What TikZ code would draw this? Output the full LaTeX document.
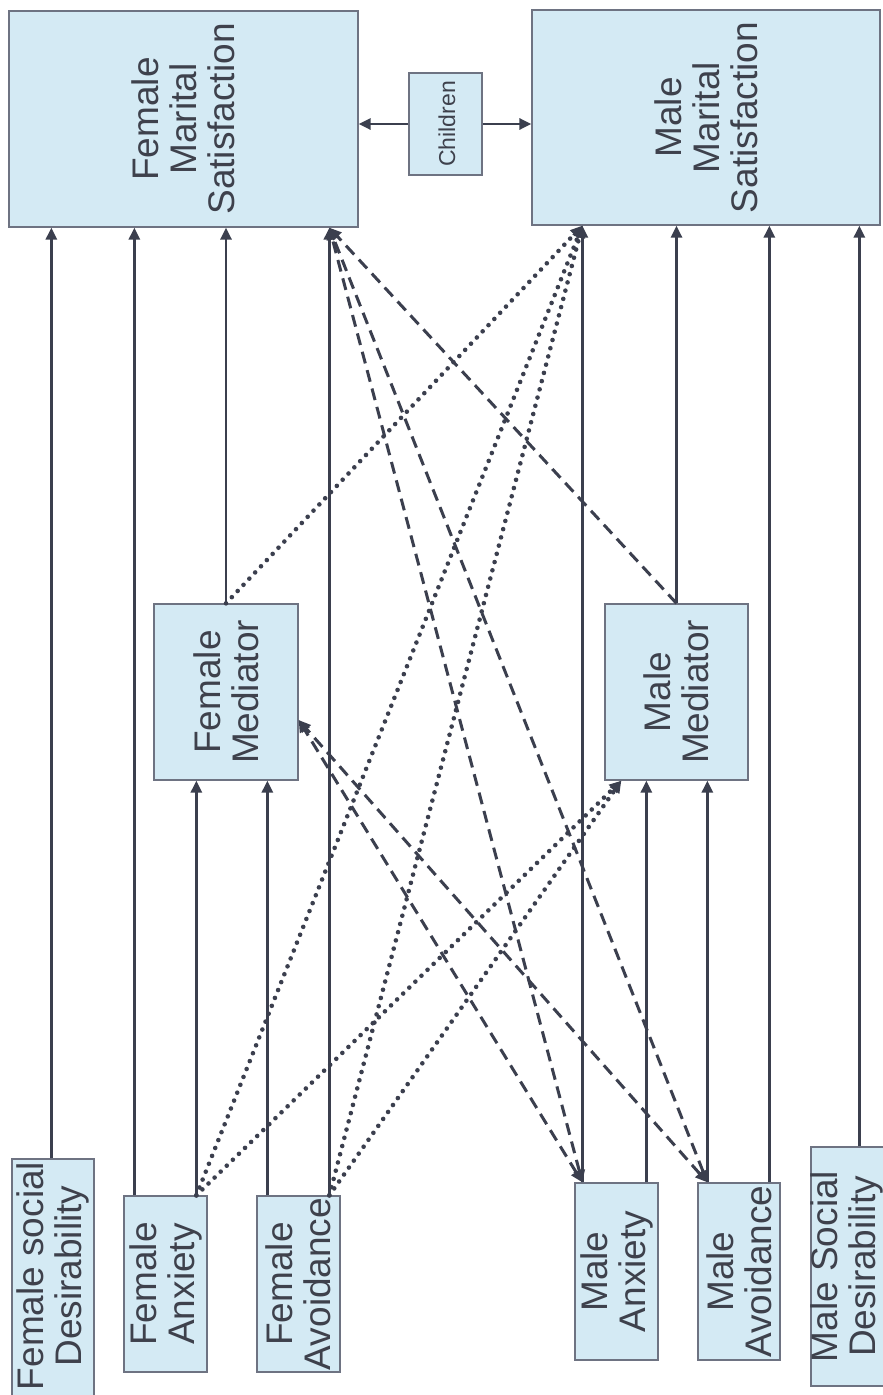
\documentclass[tikz,border=0pt]{standalone}
\usepackage{fontspec}
\setmainfont{Liberation Sans}
\usetikzlibrary{arrows.meta}
\definecolor{boxfill}{HTML}{D4EAF4}
\definecolor{boxline}{HTML}{6E7382}
\definecolor{ink}{HTML}{3B3F4E}
\definecolor{txt}{HTML}{3E414C}
\begin{document}
\begin{tikzpicture}[x=1pt,y=-1pt,
  box/.style={draw=boxline, line width=1.3pt, fill=boxfill, inner sep=0pt},
  lbl/.style={rotate=90, align=center, text=txt, font=\fontsize{37}{38}\selectfont, inner sep=0pt},
  smalllbl/.style={rotate=90, align=center, text=txt, font=\fontsize{23}{24}\selectfont, inner sep=0pt},
  solidc/.style={draw=ink, line width=2.9pt, -{Triangle[length=12pt,width=11pt]}},
  dotc/.style={draw=ink, line width=4.6pt, line cap=round, dash pattern=on 0pt off 8.5pt, -{Triangle[length=12pt,width=11pt]}},
  dashc/.style={draw=ink, line width=3pt, dash pattern=on 12pt off 7pt, -{Triangle[length=12pt,width=11pt]}},
  dashbi/.style={draw=ink, line width=3pt, dash pattern=on 12pt off 7pt, {Triangle[length=12pt,width=11pt]}-{Triangle[length=12pt,width=11pt]}}]
\useasboundingbox (0,0) rectangle (883,1395);
\fill[white] (0,0) rectangle (883,1395);
\clip (0,0) rectangle (883,1395);

% boxes
\node[box, minimum width=349pt, minimum height=216pt] (fms) at (183.5,119) {};
\node[lbl] (fmsT) at (fms) {Female\\Marital\\Satisfaction};
\node[box, minimum width=348pt, minimum height=215pt] (mms) at (706,117.5) {};
\node[lbl] (mmsT) at (mms) {Male\\Marital\\Satisfaction};
\node[box, minimum width=73pt, minimum height=102pt] (ch) at (445.5,124) {};
\node[smalllbl] (chT) at (447,124) {Children};

\node[box, minimum width=144pt, minimum height=176pt] (fmed) at (226,692) {};
\node[lbl] (fmedT) at (fmed) {Female\\Mediator};
\node[box, minimum width=143pt, minimum height=176pt] (mmed) at (676.5,692) {};
\node[lbl] (mmedT) at (mmed) {Male\\Mediator};

\node[box, minimum width=82pt, minimum height=241pt] (fsd) at (53,1279.5) {};
\node[lbl] (fsdT) at (53,1276) {Female social\\Desirability};
\node[box, minimum width=83pt, minimum height=176pt] (fan) at (165.5,1284) {};
\node[lbl] (fanT) at (fan) {Female\\Anxiety};
\node[box, minimum width=83pt, minimum height=176pt] (fav) at (298.5,1284) {};
\node[lbl] (favT) at (fav) {Female\\Avoidance};
\node[box, minimum width=83pt, minimum height=177pt] (man) at (616.5,1271.5) {};
\node[lbl] (manT) at (man) {Male\\Anxiety};
\node[box, minimum width=82pt, minimum height=177pt] (mav) at (739,1271.5) {};
\node[lbl] (mavT) at (mav) {Male\\Avoidance};
\node[box, minimum width=82pt, minimum height=239pt] (msd) at (852,1266.5) {};
\node[lbl] (msdT) at (847,1266.5) {Male Social\\Desirability};

% attachment points
\coordinate (fsdP) at ([xshift=40pt]fsd.north west);
\coordinate (fanL) at ([xshift=11pt]fan.north west);
\coordinate (fanR) at ([xshift=73pt]fan.north west);
\coordinate (favL) at ([xshift=11pt]fav.north west);
\coordinate (favR) at ([xshift=73pt]fav.north west);
\coordinate (manL) at ([xshift=8pt]man.north west);
\coordinate (manR) at ([xshift=72pt]man.north west);
\coordinate (mavL) at ([xshift=10pt]mav.north west);
\coordinate (mavR) at ([xshift=72pt]mav.north west);
\coordinate (msdP) at ([xshift=49pt]msd.north west);
\coordinate (fmsX) at ([xshift=321pt]fms.south west);
\coordinate (mmsX) at ([xshift=51pt]mms.south west);
\coordinate (mmedX) at ([xshift=17pt]mmed.south west);
\coordinate (fmedX) at ([yshift=-28pt]fmed.east);

% solid paths
\draw[solidc] (fsdP) -- (fsdP |- fms.south);
\draw[solidc] (fanL) -- (fanL |- fms.south);
\draw[solidc] (fanR) -- (fanR |- fmed.south);
\draw[solidc] (favL) -- (favL |- fmed.south);
\draw[solidc] (favR) -- (favR |- fms.south);
\draw[solidc] (fmed.north) -- (fmed.north |- fms.south);
\draw[solidc] (manL) -- (manL |- mms.south);
\draw[solidc] (manR) -- (manR |- mmed.south);
\draw[solidc] (mavL) -- (mavL |- mmed.south);
\draw[solidc] (mavR) -- (mavR |- mms.south);
\draw[solidc] (mmed.north) -- (mmed.north |- mms.south);
\draw[solidc] (msdP) -- (msdP |- mms.south);
\draw[solidc] (ch.west) -- (ch.west -| fms.east);
\draw[solidc] (ch.east) -- (ch.east -| mms.west);

% dotted paths
\draw[dotc] (fanR) -- (mmsX);
\draw[dotc] (fanR) -- (mmedX);
\draw[dotc] (favR) -- (mmsX);
\draw[dotc] (favR) -- (mmedX);
\draw[dotc] (fmed.north) -- (mmsX);

% dashed paths
\draw[dashbi] (manL) -- (fmsX);
\draw[dashbi] (manL) -- (fmedX);
\draw[dashbi] (mavL) -- (fmsX);
\draw[dashbi] (mavL) -- (fmedX);
\draw[dashc] (mmed.north) -- (fmsX);
\end{tikzpicture}
\end{document}
